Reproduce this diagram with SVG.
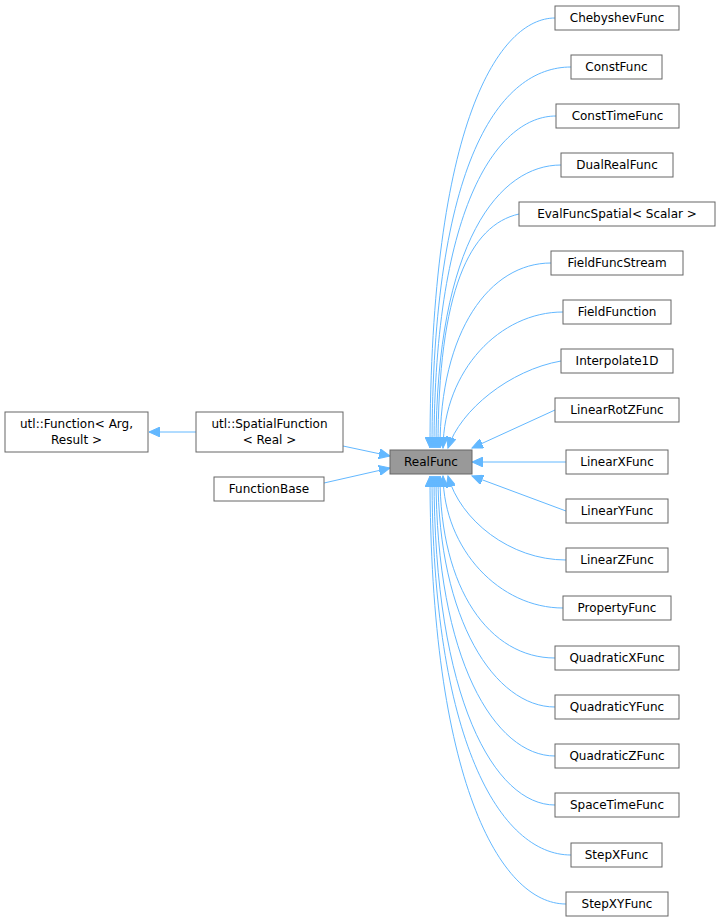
<svg xmlns="http://www.w3.org/2000/svg" width="720" height="924" viewBox="0 0 720 924">
<style>
.n rect{fill:#fff;stroke:#666;stroke-width:1}
.n text{font-family:"DejaVu Sans",sans-serif;font-size:12px;fill:#000;text-anchor:middle}
.e path{fill:none;stroke:#63b8ff;stroke-width:1;marker-end:url(#a)}
</style>
<defs><marker id="a" markerUnits="userSpaceOnUse" markerWidth="12" markerHeight="10" refX="11" refY="5" orient="auto"><path d="M0,0 L11,5 L0,10 Z" fill="#63b8ff" stroke="#63b8ff"/></marker></defs>
<rect width="720" height="924" fill="#fff"/>
<g class="e">
<path d="M555,18 C500,18 430,120 430,448"/>
<path d="M571,67 C500,67 432,160 432,448"/>
<path d="M556,116 C500,116 434,200 434,448"/>
<path d="M561,165 C500,165 436,240 436,448"/>
<path d="M519,214 C470,225 438,290 438,448"/>
<path d="M551,263 C490,263 440,330 440,448"/>
<path d="M563,312 C500,312 444,370 443,448"/>
<path d="M561,361 C510,370 460,410 448,448"/>
<path d="M555,410 L472,448"/>
<path d="M566,462 L472,462"/>
<path d="M566,511 L472,476"/>
<path d="M566,560 C510,560 460,520 448,476"/>
<path d="M563,608 C500,608 444,550 443,476"/>
<path d="M555,658 C490,658 440,590 440,476"/>
<path d="M555,707 C495,707 438,620 438,476"/>
<path d="M555,756 C495,756 436,660 436,476"/>
<path d="M555,805 C495,805 434,700 434,476"/>
<path d="M571,855 C500,855 432,740 432,476"/>
<path d="M566,904 C500,904 430,780 430,476"/>
<path d="M196,432 L149,432"/>
<path d="M343,446 L390,456"/>
<path d="M324,483 L390,468"/>
</g>
<g class="n" id="n0"><rect x="555" y="6" width="124" height="24"/><text x="617" y="22">ChebyshevFunc</text></g>
<g class="n" id="n1"><rect x="571" y="55" width="91" height="24"/><text x="616.5" y="71">ConstFunc</text></g>
<g class="n" id="n2"><rect x="556" y="104" width="123" height="24"/><text x="617.5" y="120">ConstTimeFunc</text></g>
<g class="n" id="n3"><rect x="561" y="153" width="112" height="24"/><text x="617" y="169">DualRealFunc</text></g>
<g class="n" id="n4"><rect x="519" y="202" width="196" height="24"/><text x="617" y="218">EvalFuncSpatial&lt; Scalar &gt;</text></g>
<g class="n" id="n5"><rect x="551" y="251" width="132" height="24"/><text x="617" y="267">FieldFuncStream</text></g>
<g class="n" id="n6"><rect x="563" y="300" width="108" height="24"/><text x="617" y="316">FieldFunction</text></g>
<g class="n" id="n7"><rect x="561" y="349" width="112" height="24"/><text x="617" y="365">Interpolate1D</text></g>
<g class="n" id="n8"><rect x="555" y="398" width="124" height="24"/><text x="617" y="414">LinearRotZFunc</text></g>
<g class="n" id="n9"><rect x="566" y="450" width="102" height="24"/><text x="617" y="466">LinearXFunc</text></g>
<g class="n" id="n10"><rect x="566" y="499" width="102" height="24"/><text x="617" y="515">LinearYFunc</text></g>
<g class="n" id="n11"><rect x="566" y="548" width="102" height="24"/><text x="617" y="564">LinearZFunc</text></g>
<g class="n" id="n12"><rect x="563" y="596" width="108" height="24"/><text x="617" y="612">PropertyFunc</text></g>
<g class="n" id="n13"><rect x="555" y="646" width="124" height="24"/><text x="617" y="662">QuadraticXFunc</text></g>
<g class="n" id="n14"><rect x="555" y="695" width="124" height="24"/><text x="617" y="711">QuadraticYFunc</text></g>
<g class="n" id="n15"><rect x="555" y="744" width="124" height="24"/><text x="617" y="760">QuadraticZFunc</text></g>
<g class="n" id="n16"><rect x="555" y="793" width="124" height="24"/><text x="617" y="809">SpaceTimeFunc</text></g>
<g class="n" id="n17"><rect x="571" y="843" width="91" height="24"/><text x="616.5" y="859">StepXFunc</text></g>
<g class="n" id="n18"><rect x="566" y="892" width="102" height="24"/><text x="617" y="908">StepXYFunc</text></g>
<g class="n" id="realfunc"><rect x="390" y="450" width="82" height="24" style="fill:#999"/><text x="431" y="466">RealFunc</text></g>
<g class="n" id="spatial"><rect x="196" y="412" width="147" height="40"/><text x="269.5" y="428">utl::SpatialFunction</text><text x="269.5" y="444">&lt; Real &gt;</text></g>
<g class="n" id="function"><rect x="5" y="412" width="143" height="40"/><text x="76.5" y="428">utl::Function&lt; Arg,</text><text x="76.5" y="444">Result &gt;</text></g>
<g class="n" id="fbase"><rect x="214" y="477" width="110" height="24"/><text x="269" y="493">FunctionBase</text></g>
</svg>
